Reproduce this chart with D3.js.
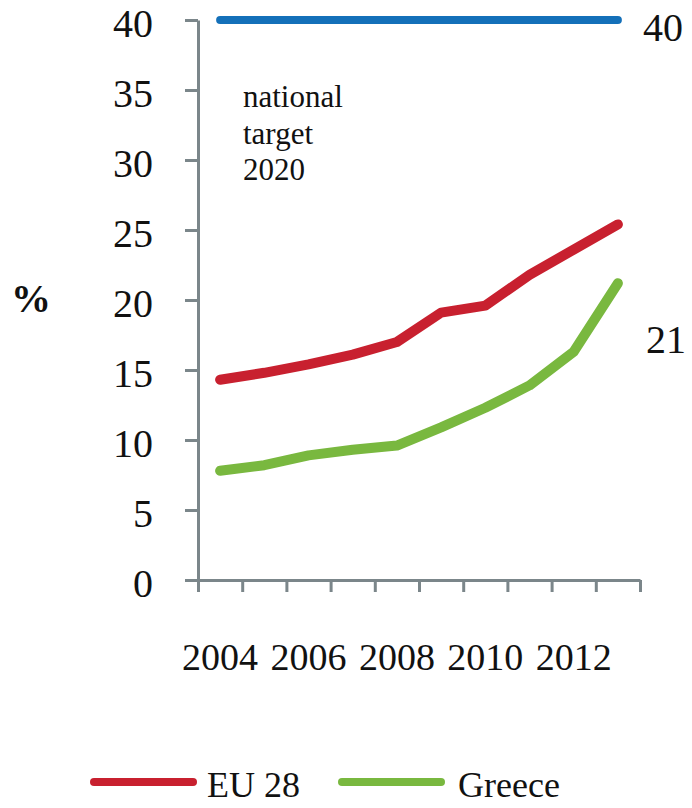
<!DOCTYPE html>
<html>
<head>
<meta charset="utf-8">
<script src="https://cdn.jsdelivr.net/npm/d3@7"></script>
<style>
  html, body { margin: 0; padding: 0; background: #fff; }
  svg { display: block; }
  text { font-family: "Liberation Serif", "Times New Roman", serif; fill: #111; }
</style>
</head>
<body>
<svg id="chart" width="692" height="808"></svg>
<script>
// Share of renewable electricity, %
const years = [2004, 2005, 2006, 2007, 2008, 2009, 2010, 2011, 2012, 2013];
const eu28 = [14.3, 14.8, 15.4, 16.1, 17.0, 19.1, 19.6, 21.8, 23.6, 25.4];
const greece = [7.8, 8.2, 8.9, 9.3, 9.6, 10.9, 12.3, 13.9, 16.3, 21.2];
const target = [40, 40, 40, 40, 40, 40, 40, 40, 40, 40];
const yTicks = [0, 5, 10, 15, 20, 25, 30, 35, 40];
const xLabels = [2004, 2006, 2008, 2010, 2012];
const seriesNames = ["EU 28", "Greece"];
const noteLines = ["national", "target", "2020"];

const svg = d3.select("#chart");
const axisColor = "#7b868a";
const colors = { eu: "#c8202f", gr: "#79b83f", target: "#1470b9" };

const x = d3.scaleBand().domain(years).range([198, 640]).paddingInner(0).paddingOuter(0);
const y = d3.scaleLinear().domain([0, 40]).range([580, 20]);
const cx = d => x(d) + x.bandwidth() / 2;

// Y axis
const yAxis = svg.append("g")
  .attr("transform", `translate(${x.range()[0]},0)`)
  .call(d3.axisLeft(y).tickValues(yTicks).tickSize(13).tickSizeOuter(0).tickFormat(""));
yAxis.select(".domain").attr("stroke", axisColor).attr("stroke-width", 3);
yAxis.selectAll(".tick line").attr("stroke", axisColor).attr("stroke-width", 3);

svg.append("g").selectAll("text").data(yTicks).join("text")
  .attr("x", 153)
  .attr("y", d => y(d) + 17)
  .attr("text-anchor", "end")
  .attr("font-size", 40)
  .text(d => d);

// X axis: ticks at category boundaries
const bounds = years.map(d => x(d)).concat([x.range()[1]]);
const xb = d3.scaleLinear().domain([0, bounds.length - 1]).range([bounds[0], bounds[bounds.length - 1]]);
const xAxis = svg.append("g")
  .attr("transform", `translate(0,${y(0)})`)
  .call(d3.axisBottom(xb).tickValues(d3.range(bounds.length)).tickSize(12).tickSizeOuter(0).tickFormat(""));
xAxis.select(".domain").attr("stroke", axisColor).attr("stroke-width", 3);
xAxis.selectAll(".tick line").attr("stroke", axisColor).attr("stroke-width", 3);

svg.append("g").selectAll("text").data(xLabels).join("text")
  .attr("x", d => cx(d))
  .attr("y", 670)
  .attr("text-anchor", "middle")
  .attr("font-size", 38)
  .text(d => d);

// Axis title
svg.append("text")
  .attr("x", 31).attr("y", 312)
  .attr("text-anchor", "middle")
  .attr("font-size", 40)
  .attr("font-weight", "bold")
  .text("%");

// Lines
const line = d3.line().x((d, i) => cx(years[i])).y(d => y(d));
const drawLine = (data, color, width) => svg.append("path")
  .datum(data)
  .attr("d", line)
  .attr("fill", "none")
  .attr("stroke", color)
  .attr("stroke-width", width)
  .attr("stroke-linejoin", "round")
  .attr("stroke-linecap", "round");

drawLine(target, colors.target, 8);
drawLine(eu28, colors.eu, 10);
drawLine(greece, colors.gr, 10);

// Note under the target line
svg.append("g").selectAll("text").data(noteLines).join("text")
  .attr("x", 243)
  .attr("y", (d, i) => 107 + i * 36.5)
  .attr("font-size", 31)
  .text(d => d);

// End value labels
const fmt = d3.format(".0f");
svg.append("text")
  .attr("x", 643).attr("y", y(target[target.length - 1]) + 21)
  .attr("font-size", 40)
  .text(fmt(target[target.length - 1]));
svg.append("text")
  .attr("x", 646).attr("y", y(greece[greece.length - 1]) + 70)
  .attr("font-size", 40)
  .text(fmt(greece[greece.length - 1]));

// Legend
const legend = [
  { name: seriesNames[0], color: colors.eu, x0: 90 },
  { name: seriesNames[1], color: colors.gr, x0: 338 }
];
const lg = svg.append("g").selectAll("g").data(legend).join("g")
  .attr("transform", d => `translate(${d.x0},782)`);
lg.append("line")
  .attr("x1", 4).attr("x2", 103)
  .attr("stroke", d => d.color)
  .attr("stroke-width", 8)
  .attr("stroke-linecap", "round");
lg.append("text")
  .attr("x", (d, i) => i === 0 ? 117 : 120)
  .attr("y", 15)
  .attr("font-size", 36)
  .text(d => d.name);
</script>
</body>
</html>
